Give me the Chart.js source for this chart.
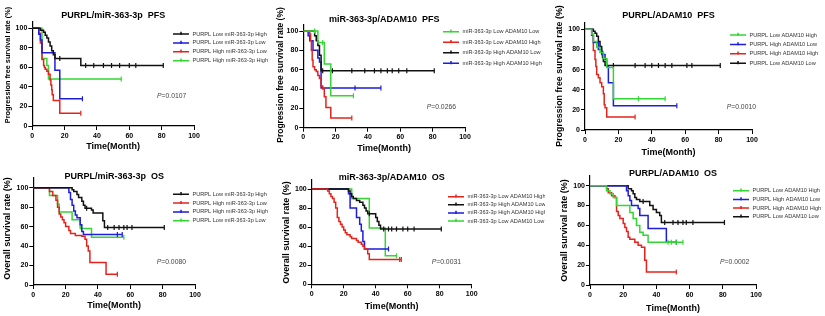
<!DOCTYPE html>
<html>
<head>
<meta charset="utf-8">
<script src="https://cdn.jsdelivr.net/npm/chart.js@4"></script>
<style>
  body { margin: 0; background: #fff; width: 825px; height: 316px; position: relative; overflow: hidden; }
  canvas { position: absolute; }
</style>
</head>
<body>
<canvas id="c1"></canvas>
<canvas id="c2"></canvas>
<canvas id="c3"></canvas>
<canvas id="c4"></canvas>
<canvas id="c5"></canvas>
<canvas id="c6"></canvas>
<script>
// axis ticks
const xTicks = [0, 20, 40, 60, 80, 100];
const yTicks = [0, 20, 40, 60, 80, 100];

// [month, survival %] steps, and censor months
// PURPL/miR-363-3p PFS
const pfs1Labels = ["PURPL Low miR-363-3p High", "PURPL Low miR-363-3p Low", "PURPL High miR-363-3p Low", "PURPL High miR-363-3p High"];
const pfs1Black = [[0, 100], [5, 98], [7, 96], [8, 93], [9, 90], [10, 86], [11, 82], [12, 77], [13, 73], [14, 69], [30, 62]];
const pfs1BlackCens = [17, 33, 38, 44, 49, 54, 60, 64, 81];
const pfs1Blue = [[0, 100], [4, 94], [5, 88], [6, 75], [14, 57], [17, 28]];
const pfs1BlueCens = [31];
const pfs1Red = [[0, 100], [4, 95], [5, 85], [6, 68], [7, 62], [7.5, 60], [8, 58], [9, 56], [10, 53], [11, 47], [11.5, 42], [12, 37], [12.3, 32], [13, 26], [17, 13]];
const pfs1RedCens = [30];
const pfs1Green = [[0, 100], [6, 69], [9, 62], [10, 48]];
const pfs1GreenCens = [55];
const pfs1P = "0.0107";

// miR-363-3p/ADAM10 PFS
const pfs2Labels = ["miR-363-3p Low ADAM10 Low", "miR-363-3p Low ADAM10 High", "miR-363-3p High ADAM10 Low", "miR-363-3p High ADAM10 High"];
const pfs2Green = [[0, 100], [9, 88], [13, 66], [17, 33]];
const pfs2GreenCens = [7, 12, 31];
const pfs2Red = [[0, 100], [4, 97], [4.5, 90], [5, 80], [5.5, 70], [6, 63], [7, 60], [8, 58], [9, 54], [10, 51], [11, 43], [12, 40], [13, 32], [14, 21], [17, 10]];
const pfs2RedCens = [30];
const pfs2Black = [[0, 100], [7, 95], [8, 90], [9, 85], [10, 75], [11, 59]];
const pfs2BlackCens = [12, 18, 30, 38, 44, 48, 52, 55, 59, 64, 81];
const pfs2Blue = [[0, 100], [3, 95], [4, 90], [6, 80], [9, 72], [10, 68], [11, 41]];
const pfs2BlueCens = [32, 48];
const pfs2P = "0.0266";

// PURPL/ADAM10 PFS
const pfs3Labels = ["PURPL Low ADAM10 High", "PURPL High ADAM10 Low", "PURPL High ADAM10 High", "PURPL Low ADAM10 Low"];
const pfs3Green = [[0, 100], [4, 95], [5, 88], [7, 82], [9, 77], [11, 71], [13, 62], [17, 31]];
const pfs3GreenCens = [32, 48];
const pfs3Blue = [[0, 100], [4, 94], [5, 87], [8, 80], [10, 75], [12, 70], [13, 63], [14, 47], [17, 24]];
const pfs3BlueCens = [55];
const pfs3Red = [[0, 100], [4, 94], [5, 79], [6, 70], [6.5, 63], [7, 55], [8, 52], [9, 47], [10, 43], [11, 36], [11.5, 25], [12, 22], [13, 13]];
const pfs3RedCens = [30];
const pfs3Black = [[0, 100], [5, 98], [6, 96], [7, 93], [8, 88], [9, 83], [10, 78], [10.5, 72], [11, 68], [12, 64]];
const pfs3BlackCens = [17, 30, 36, 40, 44, 48, 52, 61, 64, 81];
const pfs3P = "0.0010";

// PURPL/miR-363-3p OS
const os1Labels = ["PURPL Low miR-363-3p High", "PURPL High miR-363-3p Low", "PURPL High miR-363-3p High", "PURPL Low miR-363-3p Low"];
const os1Black = [[0, 100], [24, 98], [25, 96], [27, 93], [28, 90], [30, 86], [31, 82], [32, 79], [36, 77], [37, 74], [43, 66], [44, 59]];
const os1BlackCens = [33, 46, 50, 53, 56, 58, 61, 81];
const os1Red = [[0, 100], [10, 96], [12, 92], [14, 87], [15, 80], [16, 73], [17, 70], [18, 67], [19, 64], [20, 60], [22, 56], [23, 53], [26, 51], [30, 50], [32, 47], [33, 40], [34, 35], [35, 23], [45, 11]];
const os1RedCens = [52];
const os1Blue = [[0, 100], [22, 95], [23, 88], [24, 82], [25, 76], [26, 72], [27, 69], [29, 62], [30, 55], [31, 52]];
const os1BlueCens = [52, 55];
const os1Green = [[0, 100], [10, 92], [15, 83], [16, 75], [24, 67], [29, 58], [36, 49]];
const os1GreenCens = [56];
const os1P = "0.0080";

// miR-363-3p/ADAM10 OS
const os2Labels = ["miR-363-3p Low ADAM10 High", "miR-363-3p High ADAM10 Low", "miR-363-3p High ADAM10 High", "miR-363-3p Low ADAM10 Low"];
const os2Red = [[0, 100], [10, 98], [11, 95], [12, 92], [13, 90], [14, 86], [15, 80], [16, 70], [17, 66], [18, 63], [19, 60], [20, 57], [21, 54], [22, 52], [24, 50], [25, 48], [28, 46], [29, 44], [31, 42], [32, 40], [33, 37], [35, 32], [36, 26]];
const os2RedCens = [55, 56];
const os2Black = [[0, 100], [23, 98], [24, 95], [25, 92], [26, 90], [28, 88], [30, 86], [32, 83], [33, 80], [34, 77], [35, 74], [40, 70], [41, 66], [42, 62], [43, 58]];
const os2BlackCens = [36, 45, 48, 50, 53, 57, 60, 64, 81];
const os2Blue = [[0, 100], [23, 95], [24, 80], [28, 70], [30, 63], [31, 56], [32, 45], [33, 37]];
const os2BlueCens = [48];
const os2Green = [[0, 100], [25, 90], [36, 59], [46, 30]];
const os2GreenCens = [53];
const os2P = "0.0031";

// PURPL/ADAM10 OS
const os3Labels = ["PURPL Low ADAM10 High", "PURPL High ADAM10 Low", "PURPL High ADAM10 High", "PURPL Low ADAM10 Low"];
const os3Green = [[0, 100], [10, 95], [12, 92], [14, 88], [16, 80], [24, 73], [26, 67], [28, 60], [30, 53], [32, 50], [35, 43]];
const os3GreenCens = [47, 49, 52, 56];
const os3Blue = [[0, 100], [22, 95], [23, 90], [24, 85], [25, 80], [29, 77], [30, 70], [35, 57], [46, 43]];
const os3BlueCens = [52];
const os3Red = [[0, 100], [10, 97], [11, 93], [13, 90], [15, 88], [16, 74], [17, 70], [18, 67], [20, 62], [21, 58], [22, 54], [23, 48], [24, 46], [27, 43], [29, 40], [31, 38], [33, 25], [34, 13]];
const os3RedCens = [52];
const os3Black = [[0, 100], [23, 97], [25, 95], [26, 92], [27, 88], [28, 86], [30, 84], [36, 80], [38, 76], [40, 73], [42, 70], [43, 63]];
const os3BlackCens = [32, 45, 50, 53, 56, 58, 62, 81];
const os3P = "0.0002";

const BLACK = "#111111", BLUE = "#1d1ddb", RED = "#e5231d", GREEN = "#33d633";
const FONT = 'Arial, "Liberation Sans", sans-serif';

// merge steps and censor marks into one point list
function toPoints(steps, cens) {
  const pts = steps.map(([t, s]) => ({ x: t, y: s, c: false }));
  cens.forEach((t) => {
    let s = steps[0][1];
    steps.forEach((p) => { if (p[0] <= t) s = p[1]; });
    pts.push({ x: t, y: s, c: true });
  });
  return pts.sort((a, b) => a.x - b.x);
}

function drawKM(id, p) {
  const [cx, cy, cw, ch] = p.box;
  const [x0, x100, y100, y0, ymax] = p.plot;
  const top = y100 - (y0 - y100) * (ymax - 100) / 100;
  const canvas = document.getElementById(id);
  canvas.width = cw;
  canvas.height = ch;
  canvas.style.left = cx + "px";
  canvas.style.top = cy + "px";

  const tSize = 9, xtSize = 9;
  const titleTop = p.titleY - cy - tSize / 2;
  const titleBottom = (top - cy) - (p.titleY - cy) - tSize / 2;

  const datasets = p.series.map((s, i) => ({
    label: p.labels[i],
    data: toPoints(s, p.cens[i]),
    borderColor: p.colors[i],
    backgroundColor: p.colors[i],
    borderWidth: 1.5,
    stepped: true,
    fill: false,
    pointStyle: "line",
    rotation: 90,
    pointRadius: (c) => (c.raw && c.raw.c ? 2.5 : 0),
    pointHoverRadius: 0,
    pointBorderColor: p.colors[i],
    pointBorderWidth: 1.2,
  }));

  const extras = {
    id: "extras",
    afterDraw(chart) {
      const ctx = chart.ctx;
      // y axis title
      ctx.save();
      ctx.translate(p.yTitle[0] - cx, p.yTitle[1] - cy);
      ctx.rotate(-Math.PI / 2);
      ctx.font = `bold ${p.yTitle[2]}px ${FONT}`;
      ctx.fillStyle = "#000";
      ctx.textAlign = "center";
      ctx.textBaseline = "middle";
      ctx.fillText(p.yText, 0, 0);
      ctx.restore();

      // legend
      ctx.save();
      ctx.font = `5.6px ${FONT}`;
      ctx.textBaseline = "middle";
      p.labels.forEach((name, i) => {
        const lx = p.legend[0] - cx;
        const ly = p.legend[1] + i * p.legend[2] - cy;
        ctx.strokeStyle = p.colors[i];
        ctx.lineWidth = 1.5;
        ctx.beginPath();
        ctx.moveTo(lx, ly);
        ctx.lineTo(lx + 16, ly);
        ctx.moveTo(lx + 8, ly - 2.2);
        ctx.lineTo(lx + 8, ly + 1);
        ctx.stroke();
        ctx.fillStyle = "#333";
        ctx.fillText(name, lx + 19.5, ly);
      });
      ctx.restore();

      // P value
      ctx.save();
      ctx.fillStyle = "#444";
      ctx.textBaseline = "middle";
      const px = p.pPos[0] - cx, py = p.pPos[1] - cy;
      ctx.font = `italic 6.8px ${FONT}`;
      ctx.fillText("P", px, py);
      const w = ctx.measureText("P").width;
      ctx.font = `6.8px ${FONT}`;
      ctx.fillText("=" + p.pValue, px + w, py);
      ctx.restore();
    },
  };

  new Chart(canvas, {
    type: "line",
    data: { datasets },
    options: {
      responsive: false,
      animation: false,
      events: [],
      layout: { padding: { left: 0, top: 0, right: cx + cw - x100, bottom: 0 } },
      plugins: {
        legend: { display: false },
        tooltip: { enabled: false },
        title: {
          display: true,
          text: p.title,
          fullSize: false,
          color: "#000",
          font: { family: FONT, size: tSize, weight: "bold", lineHeight: 1 },
          padding: { top: titleTop, bottom: titleBottom },
        },
      },
      scales: {
        x: {
          type: "linear",
          min: 0,
          max: 100,
          afterBuildTicks: (s) => { s.ticks = xTicks.map((v) => ({ value: v })); },
          afterFit: (s) => { s.height = cy + ch - y0; s.paddingLeft = 0; s.paddingRight = 0; },
          ticks: { color: "#000", padding: 1.5, maxRotation: 0, font: { family: FONT, size: 7, weight: "bold" } },
          grid: { display: true, drawOnChartArea: false, drawTicks: true, tickLength: 4, color: "#000", lineWidth: 1 },
          border: { display: true, color: "#000", width: 1.2 },
          title: {
            display: true,
            text: "Time(Month)",
            color: "#000",
            font: { family: FONT, size: xtSize, weight: "bold", lineHeight: 1 },
            padding: { top: 0, bottom: cy + ch - p.xTitleY - xtSize / 2 },
          },
        },
        y: {
          min: 0,
          max: ymax,
          afterBuildTicks: (s) => { s.ticks = yTicks.map((v) => ({ value: v })); },
          afterFit: (s) => { s.width = x0 - cx; s.paddingTop = 0; s.paddingBottom = 0; },
          ticks: { color: "#000", padding: 1, font: { family: FONT, size: 7, weight: "bold" } },
          grid: { display: true, drawOnChartArea: false, drawTicks: true, tickLength: 4, color: "#000", lineWidth: 1 },
          border: { display: true, color: "#000", width: 1.2 },
        },
      },
    },
    plugins: [extras],
  });
}

drawKM("c1", {
  box: [0, 0, 275, 160], plot: [32.3, 194, 28.3, 126, 107],
  title: "PURPL/miR-363-3p  PFS", titleY: 16, xTitleY: 146.7,
  yText: "Progression free survival rate (%)", yTitle: [8, 65, 7.3],
  labels: pfs1Labels, colors: [BLACK, BLUE, RED, GREEN],
  series: [pfs1Black, pfs1Blue, pfs1Red, pfs1Green],
  cens: [pfs1BlackCens, pfs1BlueCens, pfs1RedCens, pfs1GreenCens],
  legend: [173, 34, 8.9], pPos: [157, 96], pValue: pfs1P,
});

drawKM("c2", {
  box: [275, 0, 270, 160], plot: [303.3, 465, 31, 127.7, 107],
  title: "miR-363-3p/ADAM10  PFS", titleY: 19.3, xTitleY: 148.3,
  yText: "Progression free survival rate (%)", yTitle: [281, 75, 8.5],
  labels: pfs2Labels, colors: [GREEN, RED, BLACK, BLUE],
  series: [pfs2Green, pfs2Red, pfs2Black, pfs2Blue],
  cens: [pfs2GreenCens, pfs2RedCens, pfs2BlackCens, pfs2BlueCens],
  legend: [443, 31.7, 10.5], pPos: [426.7, 106.7], pValue: pfs2P,
});

drawKM("c3", {
  box: [545, 0, 280, 160], plot: [585, 752, 29.3, 130, 107],
  title: "PURPL/ADAM10  PFS", titleY: 16, xTitleY: 152.7,
  yText: "Progression free survival rate (%)", yTitle: [560, 76, 8.9],
  labels: pfs3Labels, colors: [GREEN, BLUE, RED, BLACK],
  series: [pfs3Green, pfs3Blue, pfs3Red, pfs3Black],
  cens: [pfs3GreenCens, pfs3BlueCens, pfs3RedCens, pfs3BlackCens],
  legend: [730, 35, 9.4], pPos: [726.7, 107.3], pValue: pfs3P,
});

drawKM("c4", {
  box: [0, 160, 275, 156], plot: [33.3, 195, 187.7, 285, 110],
  title: "PURPL/miR-363-3p  OS", titleY: 176.7, xTitleY: 305.7,
  yText: "Overall survival rate (%)", yTitle: [8, 228.5, 9],
  labels: os1Labels, colors: [BLACK, RED, BLUE, GREEN],
  series: [os1Black, os1Red, os1Blue, os1Green],
  cens: [os1BlackCens, os1RedCens, os1BlueCens, os1GreenCens],
  legend: [173, 194.3, 8.8], pPos: [156.7, 262.3], pValue: os1P,
});

drawKM("c5", {
  box: [275, 160, 270, 156], plot: [311.7, 471.7, 189, 284.3, 110],
  title: "miR-363-3p/ADAM10  OS", titleY: 177.7, xTitleY: 306.7,
  yText: "Overall survival rate (%)", yTitle: [287, 232.5, 9],
  labels: os2Labels, colors: [RED, BLACK, BLUE, GREEN],
  series: [os2Red, os2Black, os2Blue, os2Green],
  cens: [os2RedCens, os2BlackCens, os2BlueCens, os2GreenCens],
  legend: [448, 196.7, 8.1], pPos: [431.7, 262.3], pValue: os2P,
});

drawKM("c6", {
  box: [545, 160, 280, 156], plot: [590, 756, 185.7, 285, 110],
  title: "PURPL/ADAM10  OS", titleY: 173.3, xTitleY: 308.3,
  yText: "Overall survival rate (%)", yTitle: [565, 230.5, 9],
  labels: os3Labels, colors: [GREEN, BLUE, RED, BLACK],
  series: [os3Green, os3Blue, os3Red, os3Black],
  cens: [os3GreenCens, os3BlueCens, os3RedCens, os3BlackCens],
  legend: [733, 190.7, 8.7], pPos: [720, 262.3], pValue: os3P,
});
</script>
</body>
</html>
